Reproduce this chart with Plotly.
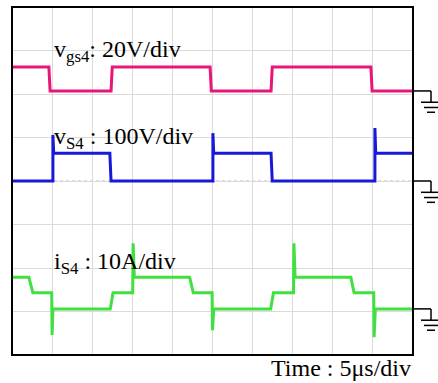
import plotly.graph_objects as go

# ---- data (time in divisions, amplitude in divisions) ----
vgs_t = [0, 0.92, 0.95, 2.47, 2.50, 4.94, 4.97, 6.46, 6.49, 8.95, 8.98, 10]
vgs_v = [6.62, 6.62, 6.07, 6.07, 6.62, 6.62, 6.07, 6.07, 6.62, 6.62, 6.07, 6.07]

vs_t = [0, 1.02, 1.02, 1.04, 2.44, 2.47, 5.01, 5.01, 5.03, 6.46, 6.49, 9.05, 9.05, 9.07, 10]
vs_v = [4.0, 4.0, 5.06, 4.64, 4.64, 4.0, 4.0, 5.1, 4.64, 4.64, 4.0, 4.0, 5.22, 4.64, 4.64]

is_t = [0, 0.42, 0.52, 0.99, 1.0, 1.02, 2.45, 2.52, 3.01, 3.02, 3.05, 4.43, 4.52, 4.99,
        5.0, 5.03, 6.45, 6.52, 7.02, 7.03, 7.06, 8.45, 8.53, 9.02, 9.03, 9.06, 10]
is_v = [1.79, 1.79, 1.43, 1.43, 0.46, 1.06, 1.06, 1.43, 1.43, 2.57, 1.79, 1.79, 1.43, 1.43,
        0.57, 1.06, 1.06, 1.43, 1.43, 2.57, 1.79, 1.79, 1.43, 1.43, 0.41, 1.06, 1.06]

ground_levels = [6.07, 4.0, 1.06]
labels = ["v<sub>gs4</sub>: 20V/div", "v<sub>S4</sub> : 100V/div", "i<sub>S4</sub> : 10A/div"]
label_y = [7.0, 5.0, 2.12]
time_label = "Time : 5\u03bcs/div"

colors = ["#e8167a", "#1818d8", "#40e040"]
FONT = "Liberation Serif, Times New Roman, serif"

fig = go.Figure()
for t, v, c in [(vgs_t, vgs_v, colors[0]), (vs_t, vs_v, colors[1]), (is_t, is_v, colors[2])]:
    fig.add_trace(go.Scatter(x=t, y=v, mode="lines", line=dict(color=c, width=3),
                             showlegend=False, hoverinfo="skip"))

W, H = 438, 383
ml, mr, mt, mb = 12, 25, 7, 28
pw = W - ml - mr

shapes = []
# center cross-hair (dotted)
shapes.append(dict(type="line", xref="x", yref="y", x0=5, x1=5, y0=0, y1=8,
                   line=dict(color="#b8b8b8", width=1, dash="dot"), layer="below"))
shapes.append(dict(type="line", xref="x", yref="y", x0=0, x1=10, y0=4, y1=4,
                   line=dict(color="#b8b8b8", width=1, dash="dot"), layer="below"))
# frame
shapes.append(dict(type="rect", xref="paper", yref="paper", x0=0, x1=1, y0=0, y1=1,
                   line=dict(color="black", width=2)))
# ground symbols
px = 1.0 / pw
xg = 1 + 18 * px
for g in ground_levels:
    shapes.append(dict(type="line", xref="paper", yref="y", x0=1, x1=xg, y0=g, y1=g,
                       line=dict(color="black", width=1.5)))
    shapes.append(dict(type="line", xref="paper", yref="y", x0=xg, x1=xg, y0=g, y1=g - 0.26,
                       line=dict(color="black", width=1.5)))
    for off, half in [(0.26, 10), (0.38, 7), (0.49, 4)]:
        shapes.append(dict(type="line", xref="paper", yref="y", x0=xg - half * px,
                           x1=xg + half * px, y0=g - off, y1=g - off,
                           line=dict(color="black", width=1.5)))

annotations = []
for txt, y in zip(labels, label_y):
    annotations.append(dict(text=txt, x=1.0, y=y, xref="x", yref="y", xanchor="left",
                            yanchor="middle", showarrow=False,
                            font=dict(family=FONT, size=24, color="black")))
annotations.append(dict(text=time_label, x=1.0, y=-0.037, xref="paper", yref="paper",
                        xanchor="right", yanchor="middle", showarrow=False,
                        font=dict(family=FONT, size=24, color="black")))

fig.update_layout(
    width=W, height=H, margin=dict(l=ml, r=mr, t=mt, b=mb),
    paper_bgcolor="white", plot_bgcolor="white",
    shapes=shapes, annotations=annotations,
    xaxis=dict(range=[0, 10], dtick=1, showgrid=True, gridcolor="#dadada", gridwidth=1,
               showticklabels=False, zeroline=False, ticks="", fixedrange=True),
    yaxis=dict(range=[0, 8], dtick=1, showgrid=True, gridcolor="#dadada", gridwidth=1,
               showticklabels=False, zeroline=False, ticks="", fixedrange=True),
)
fig.write_html("out.html")
